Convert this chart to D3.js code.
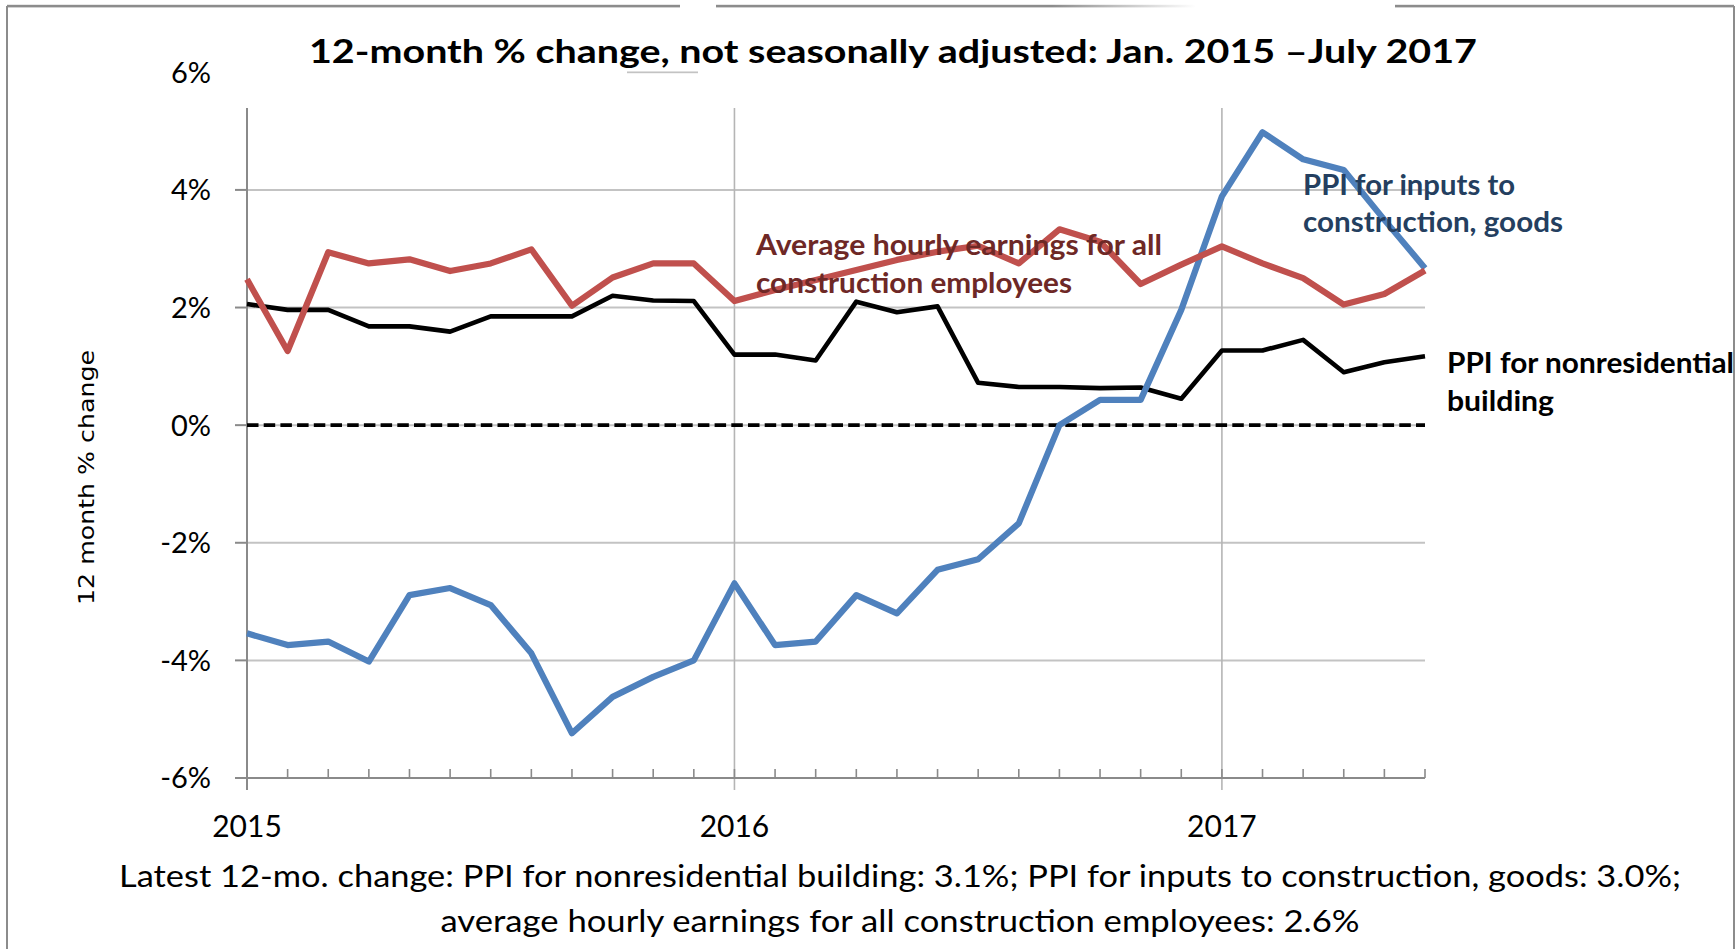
<!DOCTYPE html>
<html>
<head>
<meta charset="utf-8">
<script src="https://cdn.jsdelivr.net/npm/d3@7"></script>
<style>
  html, body { margin: 0; padding: 0; background: #fff; }
  svg { display: block; }
</style>
</head>
<body>
<svg id="chart" width="1736" height="949"></svg>
<script>
// ---- data -------------------------------------------------------------
// Monthly categories, Jan 2015 through Jun 2017
const months = d3.timeMonth.range(new Date(2015, 0, 1), new Date(2017, 6, 1));
const yearLabels = ["2015", "2016", "2017"];
const yTicks = [-6, -4, -2, 0, 2, 4, 6];

// PPI for nonresidential building (12-month % change)
const ppiNonres = [2.06, 1.96, 1.96, 1.68, 1.68, 1.59, 1.85, 1.85, 1.85, 2.20,
                   2.12, 2.11, 1.20, 1.20, 1.10, 2.10, 1.92, 2.02, 0.72, 0.65,
                   0.65, 0.63, 0.64, 0.45, 1.27, 1.27, 1.45, 0.90, 1.07, 1.17];
// PPI for inputs to construction, goods
const ppiInputs = [-3.54, -3.74, -3.68, -4.02, -2.89, -2.77, -3.06, -3.88, -5.24, -4.62,
                   -4.28, -4.00, -2.69, -3.74, -3.68, -2.89, -3.20, -2.46, -2.28, -1.67,
                   0.00, 0.43, 0.43, 1.96, 3.89, 4.98, 4.52, 4.34, 3.49, 2.67];
// Average hourly earnings, all construction employees
const earnings = [2.48, 1.26, 2.94, 2.75, 2.82, 2.62, 2.75, 2.99, 2.03, 2.51,
                  2.75, 2.75, 2.11, 2.30, 2.47, 2.64, 2.81, 2.95, 3.05, 2.75,
                  3.33, 3.12, 2.40, 2.73, 3.04, 2.75, 2.50, 2.05, 2.23, 2.63];

const titleText = "12-month % change, not seasonally adjusted: Jan. 2015 \u2013July 2017";
const yAxisTitle = "12 month % change";
const noteLines = [
  "Latest 12-mo. change: PPI for nonresidential building: 3.1%; PPI for inputs to construction, goods: 3.0%;",
  "average hourly earnings for all construction employees: 2.6%"
];

// ---- layout -----------------------------------------------------------
const svg = d3.select("#chart");
const W = 1736, H = 949;
const plot = { left: 247, right: 1425, top: 72.3, bottom: 778 };
const FONT = "Lato, 'Open Sans', sans-serif";

const x = d3.scalePoint().domain(d3.range(months.length)).range([plot.left, plot.right]);
const y = d3.scaleLinear().domain([-6, 6]).range([plot.bottom, plot.top]);

const gridColor = "#c3c3c3";
const axisColor = "#8a8a8a";

// horizontal gridlines
svg.append("g").selectAll("line")
  .data(yTicks.filter(v => v !== -6))
  .join("line")
  .attr("x1", plot.left).attr("x2", plot.right)
  .attr("y1", d => y(d)).attr("y2", d => y(d))
  .attr("stroke", gridColor).attr("stroke-width", 2);

// vertical gridlines at each new year (extend below axis as major ticks)
const yearIdx = months.map((m, i) => i).filter(i => months[i].getMonth() === 0);
svg.append("g").selectAll("line")
  .data(yearIdx.filter(i => i > 0))
  .join("line")
  .attr("x1", d => x(d)).attr("x2", d => x(d))
  .attr("y1", plot.top).attr("y2", plot.bottom + 12)
  .attr("stroke", "#b5b5b5").attr("stroke-width", 1.6);

// title box (white panel over the top of the plot area)
const titleBox = { top: 10, bottom: 108, left: 216, right: 1440, gap: [627, 698] };
svg.append("rect")
  .attr("x", titleBox.left).attr("y", titleBox.top)
  .attr("width", titleBox.gap[0] - titleBox.left).attr("height", titleBox.bottom - titleBox.top)
  .attr("fill", "#fff");
svg.append("rect")
  .attr("x", titleBox.gap[1]).attr("y", titleBox.top)
  .attr("width", titleBox.right - titleBox.gap[1]).attr("height", titleBox.bottom - titleBox.top)
  .attr("fill", "#fff");
svg.append("rect")
  .attr("x", titleBox.gap[0]).attr("y", titleBox.top)
  .attr("width", titleBox.gap[1] - titleBox.gap[0]).attr("height", y(6) - titleBox.top - 1)
  .attr("fill", "#fff");
svg.append("rect")
  .attr("x", titleBox.gap[0]).attr("y", y(6) + 1.5)
  .attr("width", titleBox.gap[1] - titleBox.gap[0]).attr("height", titleBox.bottom - y(6) - 1.5)
  .attr("fill", "#fff");

// y axis
svg.append("line")
  .attr("x1", plot.left).attr("x2", plot.left)
  .attr("y1", titleBox.bottom).attr("y2", plot.bottom + 12)
  .attr("stroke", axisColor).attr("stroke-width", 2);
svg.append("g").selectAll("line")
  .data(yTicks.filter(v => y(v) > titleBox.bottom))
  .join("line")
  .attr("x1", plot.left - 12).attr("x2", plot.left)
  .attr("y1", d => y(d)).attr("y2", d => y(d))
  .attr("stroke", axisColor).attr("stroke-width", 2);
svg.append("g").selectAll("text")
  .data(yTicks)
  .join("text")
  .attr("x", 211).attr("y", d => y(d)).attr("dy", "0.36em")
  .attr("text-anchor", "end")
  .attr("font-family", FONT).attr("font-size", 29).attr("fill", "#000")
  .text(d => String(d) + "%");

// x axis
svg.append("line")
  .attr("x1", plot.left).attr("x2", plot.right)
  .attr("y1", plot.bottom).attr("y2", plot.bottom)
  .attr("stroke", axisColor).attr("stroke-width", 2);
svg.append("g").selectAll("line")
  .data(d3.range(months.length).filter(i => i > 0))
  .join("line")
  .attr("x1", d => x(d)).attr("x2", d => x(d))
  .attr("y1", plot.bottom - 9).attr("y2", plot.bottom)
  .attr("stroke", axisColor).attr("stroke-width", 1.6);
svg.append("g").selectAll("text")
  .data(yearIdx)
  .join("text")
  .attr("x", d => x(d)).attr("y", 837)
  .attr("text-anchor", "middle")
  .attr("font-family", FONT).attr("font-size", 30).attr("fill", "#000")
  .text((d, i) => yearLabels[i]);

// zero reference line
svg.append("line")
  .attr("x1", plot.left).attr("x2", plot.right)
  .attr("y1", y(0)).attr("y2", y(0))
  .attr("stroke", "#000").attr("stroke-width", 3.6)
  .attr("stroke-dasharray", "11.5,5.2");

// series lines
const line = d3.line().x((d, i) => x(i)).y(d => y(d));
const series = [
  { values: ppiNonres, color: "#000000", width: 4.6 },
  { values: ppiInputs, color: "#4f81bd", width: 6.2 },
  { values: earnings,  color: "#c0504d", width: 6.2 }
];
svg.append("g").selectAll("path")
  .data(series)
  .join("path")
  .attr("d", d => line(d.values))
  .attr("fill", "none")
  .attr("stroke", d => d.color)
  .attr("stroke-width", d => d.width)
  .attr("stroke-linejoin", "round");

// series annotations
const labels = [
  { lines: ["Average hourly earnings for all", "construction employees"],
    x: 756, y: [255, 292.5], len: [406, 316], color: "#6e2826" },
  { lines: ["PPI for inputs to", "construction, goods"],
    x: 1303, y: [195, 232], len: [212, 260], color: "#243f60" },
  { lines: ["PPI for nonresidential", "building"],
    x: 1447, y: [373, 410.5], len: [287, 107], color: "#000000" }
];
labels.forEach(l => {
  l.lines.forEach((t, k) => {
    svg.append("text")
      .attr("x", l.x).attr("y", l.y[k])
      .attr("font-family", FONT).attr("font-weight", "bold")
      .attr("font-size", 28).attr("fill", l.color)
      .attr("textLength", l.len[k]).attr("lengthAdjust", "spacingAndGlyphs")
      .text(t);
  });
});

// chart title
svg.append("text")
  .attr("x", 893).attr("y", 63)
  .attr("text-anchor", "middle")
  .attr("font-family", FONT).attr("font-weight", "bold").attr("font-size", 33)
  .attr("textLength", 1168).attr("lengthAdjust", "spacingAndGlyphs")
  .text(titleText);

// y axis title
svg.append("text")
  .attr("transform", "translate(86,477.5) rotate(-90)")
  .attr("text-anchor", "middle").attr("dy", "0.36em")
  .attr("font-family", "'DejaVu Sans', Verdana, sans-serif").attr("font-size", 22)
  .attr("textLength", 255).attr("lengthAdjust", "spacingAndGlyphs")
  .text(yAxisTitle);

// footnote
const noteLen = [1562, 919];
noteLines.forEach((t, k) => {
  svg.append("text")
    .attr("x", 900).attr("y", [887, 931.5][k])
    .attr("text-anchor", "middle")
    .attr("font-family", FONT).attr("font-size", 30).attr("fill", "#000")
    .attr("textLength", noteLen[k]).attr("lengthAdjust", "spacingAndGlyphs")
    .text(t);
});

// outer frame
const defs = svg.append("defs");
const fade = defs.append("linearGradient").attr("id", "frameFade")
  .attr("gradientUnits", "userSpaceOnUse")
  .attr("x1", 1052).attr("x2", 1196).attr("y1", 0).attr("y2", 0);
fade.append("stop").attr("offset", 0).attr("stop-color", "#8c8c8c").attr("stop-opacity", 1);
fade.append("stop").attr("offset", 1).attr("stop-color", "#8c8c8c").attr("stop-opacity", 0);
const frameTop = 6, frameLeft = 7, frameRight = 1734;
[[frameLeft, 680, "#8c8c8c"], [716, 1196, "url(#frameFade)"], [1395, frameRight, "#8c8c8c"]]
  .forEach(([a, b, c]) => {
    svg.append("rect").attr("x", a).attr("y", frameTop - 1.2)
      .attr("width", b - a).attr("height", 2.6).attr("fill", c);
  });
[frameLeft, frameRight].forEach(fx => {
  svg.append("line")
    .attr("x1", fx).attr("x2", fx).attr("y1", frameTop).attr("y2", H)
    .attr("stroke", "#8c8c8c").attr("stroke-width", 2);
});
</script>
</body>
</html>
